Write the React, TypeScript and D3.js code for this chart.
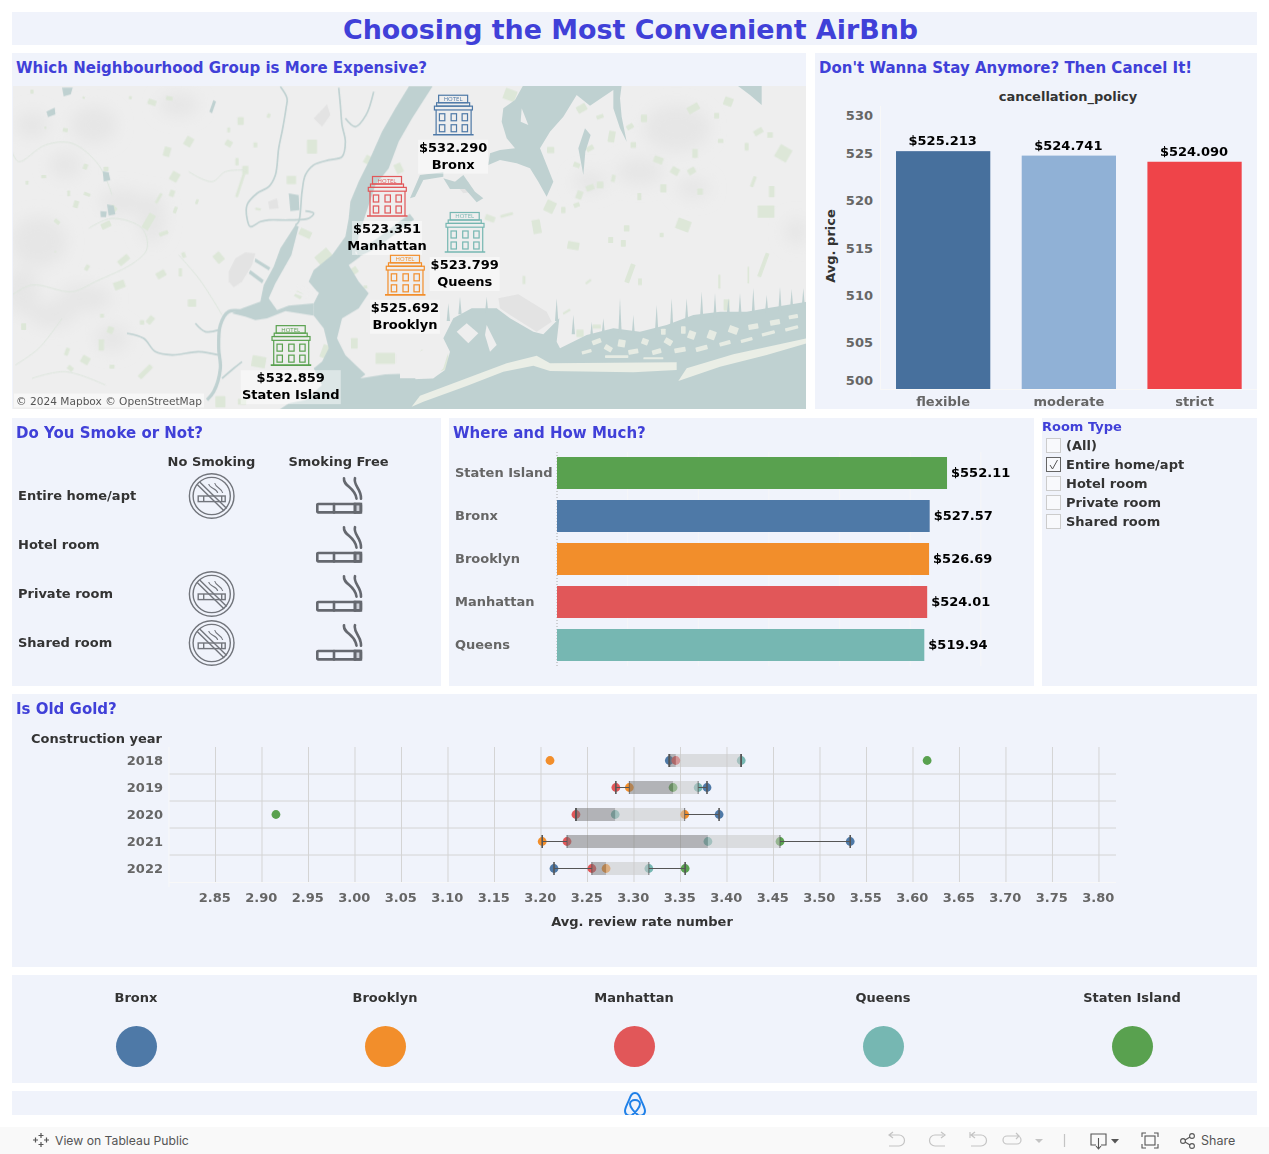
import * as d3 from "d3";
import React from "react";

const boroughs = ["Bronx", "Brooklyn", "Manhattan", "Queens", "Staten Island"];
const boroughColors = ["#4e79a7", "#f28e2b", "#e15759", "#76b7b2", "#59a14f"];

const mapBoroughs = ["Bronx", "Manhattan", "Queens", "Brooklyn", "Staten Island"];
const mapLon = [-73.856, -73.97, -73.836, -73.939, -74.136];
const mapLat = [40.886, 40.78, 40.733, 40.677, 40.585];
const mapPrice = [532.29, 523.351, 523.799, 525.692, 532.859];

const policies = ["flexible", "moderate", "strict"];
const policyPrice = [525.213, 524.741, 524.09];
const policyColors = ["#47709d", "#90b1d6", "#ef4449"];
const policyTicks = [500, 505, 510, 515, 520, 525, 530];

const rooms = ["Entire home/apt", "Hotel room", "Private room", "Shared room"];
const noSmoking = [true, false, true, true];
const smokingFree = [true, true, true, true];

const barBoroughs = ["Staten Island", "Bronx", "Brooklyn", "Manhattan", "Queens"];
const barPrice = [552.11, 527.57, 526.69, 524.01, 519.94];

const filterItems = ["(All)", "Entire home/apt", "Hotel room", "Private room", "Shared room"];
const filterChecked = "Entire home/apt";

const years = ["2018", "2019", "2020", "2021", "2022"];
// review rate per year, same order as boroughs
const reviewBronx = [3.338, 3.3785, 3.3915, 3.5325, 3.214];
const reviewBrooklyn = [3.2097, 3.295, 3.3545, 3.2013, 3.27];
const reviewManhattan = [3.345, 3.2805, 3.2376, 3.228, 3.2547];
const reviewQueens = [3.4153, 3.369, 3.2798, 3.3795, 3.316];
const reviewStaten = [3.6152, 3.342, 2.915, 3.457, 3.355];
const reviewSeries = [reviewBronx, reviewBrooklyn, reviewManhattan, reviewQueens, reviewStaten];
const reviewTicks = d3.range(0, 20).map(i => 2.85 + i * 0.05);

// ---- basemap shapes, traced by hand. first set is in the left crop, second in the right crop ----
const seaLeft = "1191,3 1150,70 1110,140 1070,230 1040,290 1015,350 1010,400 1000,455 960,510 905,555 890,590 920,625 905,655 905,692 935,730 950,790 930,830 905,850 930,900 880,945 830,955 800,975 1210,975 1210,865 1120,868 1045,880 1060,868 1000,810 975,760 990,700 1040,670 1070,625 1040,590 1010,540 1045,515 1030,505 1040,450 1060,390 1090,300 1130,250 1160,170 1200,100 1262,3";
const newarkBay = "905,655 830,662 795,675 770,640 790,595 838,510 860,425 850,420 805,490 785,545 755,600 745,650 690,670 660,685 700,695 730,705 765,700 820,678 905,692";
const leftWaterBits = ["730,520 775,548 770,556 728,530", "715,555 755,585 750,595 710,565", "150,8 182,8 176,28 155,34", "103,80 128,68 130,88 108,96", "272,258 290,262 295,285 275,290", "285,358 305,362 310,388 290,392", "265,378 284,380 282,396 266,396", "592,80 604,45 612,50 600,85", "830,325 860,330 862,375 835,378"];
const leftLandBits = ["855,597 920,622 917,630 852,605", "835,612 905,640 902,646 832,620"];
const leftGrey = ["650,560 670,520 700,502 730,505 720,540 690,590 665,607 650,590", "905,100 945,58 955,90 930,125", "768,350 795,340 800,370 772,372"];
const leftRivers: [number, number][][] = [
  [[880, 378], [905, 385], [890, 400], [830, 405], [770, 405], [745, 410], [715, 425], [705, 400], [705, 360], [735, 325], [770, 305], [790, 270], [800, 190], [812, 130], [822, 70], [825, 40], [805, 5]],
  [[850, 420], [860, 410], [870, 320], [880, 270], [905, 240], [950, 225], [990, 215], [1000, 170], [990, 120], [985, 60], [980, 8]],
  [[700, 680], [650, 680], [625, 720], [620, 790], [625, 850], [605, 920], [585, 945]],
  [[345, 745], [395, 760], [430, 800], [480, 810], [560, 800], [620, 810]],
  [[550, 715], [580, 740], [620, 735]],
  [[630, 880], [665, 850], [690, 830]],
  [[1000, 100], [1030, 125], [1062, 90], [1085, 20]],
];
const leftStreams: [number, number][][] = [
  [[0, 200], [20, 230], [100, 180], [180, 175], [260, 240], [300, 330]],
  [[230, 430], [300, 400], [390, 430], [405, 490], [370, 530], [250, 590], [180, 620], [60, 600], [0, 630]],
  [[500, 510], [560, 580], [600, 640], [630, 690]],
  [[150, 700], [80, 790], [10, 840]],
  [[530, 260], [600, 290], [640, 260], [700, 255]],
  [[60, 880], [160, 860], [280, 900]],
];
const leftParks: number[][] = [
  [60, 20, 12, 14, 0], [215, 38, 10, 8, 30], [420, 52, 30, 20, 20], [472, 40, 24, 15, 10], [355, 38, 10, 12, 0], [160, 135, 18, 14, 10], [100, 128, 8, 8, 0], [220, 245, 16, 20, 20], [282, 252, 18, 16, 0],
  [95, 275, 18, 12, 0], [45, 293, 10, 14, 0], [225, 328, 24, 12, 20], [170, 325, 10, 20, 0], [192, 358, 18, 26, 15], [135, 410, 22, 14, 40], [282, 420, 36, 22, -25], [305, 370, 24, 18, 40], [455, 445, 34, 14, -20],
  [490, 375, 12, 24, 20], [555, 350, 10, 18, 20], [530, 170, 28, 34, 30], [465, 200, 24, 34, 15], [488, 275, 30, 34, 30], [480, 325, 18, 24, 20], [440, 340, 10, 40, 30], [410, 410, 26, 60, 30], [686, 108, 22, 28, 0],
  [650, 175, 24, 22, 30], [730, 180, 14, 18, 0], [770, 92, 12, 16, 20], [650, 135, 10, 18, 0], [675, 230, 12, 26, 0], [700, 255, 22, 30, 0], [738, 372, 20, 8, 10], [620, 518, 30, 36, -40], [515, 510, 14, 20, -20],
  [335, 525, 44, 22, -40], [447, 568, 34, 24, -30], [322, 600, 40, 28, -20], [540, 654, 30, 26, 0], [505, 562, 12, 30, 0], [225, 548, 14, 22, 30], [270, 692, 14, 14, 0], [130, 500, 6, 6, 0], [295, 735, 22, 24, 20],
  [268, 780, 20, 40, 0], [220, 825, 30, 28, 30], [165, 800, 14, 28, 20], [175, 850, 22, 16, 40], [35, 725, 18, 24, 0], [400, 860, 60, 18, -45], [415, 705, 20, 30, 40], [390, 712, 16, 16, 0], [300, 845, 18, 14, 0],
  [880, 445, 44, 26, 25], [900, 185, 36, 50, 0], [838, 285, 34, 30, 0], [685, 300, 10, 90, 18], [1068, 225, 26, 30, 30], [1160, 250, 26, 36, -25], [935, 515, 56, 40, -40], [1025, 558, 30, 24, -35], [1027, 775, 24, 38, 0],
  [940, 800, 28, 48, 20], [860, 630, 26, 22, 30], [740, 830, 50, 40, 10], [625, 950, 36, 40, 0], [1120, 820, 70, 40, 0], [1060, 606, 14, 12, 0], [690, 950, 30, 20, 0],
];
const leftMottle: number[][] = [[245, 120, 70, 55], [160, 240, 50, 40], [80, 470, 85, 75], [420, 400, 40, 75], [220, 640, 80, 40], [120, 690, 70, 40], [330, 350, 70, 38], [60, 120, 50, 40], [300, 760, 50, 40], [30, 620, 50, 70], [500, 60, 60, 35]];

const seaRight = "0,885 100,880 135,855 150,800 130,760 160,700 215,670 290,670 330,700 400,740 430,748 478,700 470,770 480,790 560,750 640,730 720,740 800,720 880,690 960,680 1040,680 1100,670 1221,650 1221,975 0,975";
const soundRight = "370,0 345,45 310,70 305,110 320,160 345,190 300,195 270,205 265,240 300,225 350,235 390,250 415,290 440,335 460,290 440,240 420,190 450,140 490,95 530,30 570,62 640,15 640,70 660,130 680,170 665,95 660,40 665,0";
const rightWaterBits = ["555,130 535,190 550,270 556,200 572,150", "130,280 165,290 190,270 225,320 250,340 230,352 195,312 150,312", "30,340 60,270 130,262 130,275 70,285 45,335", "1010,0 1085,0 1085,60 1050,30"];
const rightLandBits = ["35,965 60,932 200,880 320,835 410,812 450,835 830,832 830,855 700,862 450,858 400,842 310,860 200,903 70,950", "835,888 860,850 1000,808 1221,760 1221,775 1100,810 960,845", "100,880 130,850 145,800 110,770 60,800 0,800 0,880", "170,740 200,715 235,745 205,775", "260,720 290,780 270,800 255,750", "365,70 385,120 362,110"];
const rightGrey = ["295,640 355,628 440,680 455,710 410,740 330,690 300,670", "160,290 205,290 218,320 190,325"];
const rightIslands: number[][] = [
  [590, 770, 28, 14, -20], [625, 790, 24, 16, 30], [665, 775, 22, 22, 10], [700, 800, 30, 14, -10], [735, 770, 20, 18, 20], [770, 800, 28, 14, -15], [805, 770, 24, 18, 30], [840, 795, 34, 14, -10],
  [875, 750, 22, 24, 20], [905, 790, 36, 14, -15], [935, 750, 24, 26, 20], [975, 775, 34, 12, -15], [1000, 735, 28, 22, 20], [1040, 765, 36, 10, -15], [1060, 725, 30, 16, -10], [1105, 745, 40, 10, -15],
  [1125, 712, 30, 16, -10], [1175, 730, 40, 10, -15], [1180, 695, 28, 12, -10], [850, 735, 14, 22, 0], [790, 740, 14, 18, 0], [560, 800, 30, 10, -15], [650, 815, 70, 8, 0], [760, 820, 60, 6, 0],
];
const rightFingers: number[][] = [
  [470, 700, 640], [520, 740, 690], [575, 750, 710], [610, 740, 700], [660, 735, 640], [700, 745, 690], [770, 730, 660], [815, 720, 640], [860, 700, 640], [905, 690, 620], [945, 690, 625], [985, 685, 640], [1020, 685, 625], [1060, 680, 610], [1100, 675, 630], [1140, 670, 605], [1175, 665, 612], [1210, 660, 610], [145, 700, 655], [180, 680, 635], [260, 675, 635],
];
const rightParks: number[][] = [
  [330, 30, 44, 40, 20], [545, 70, 36, 26, -30], [600, 95, 26, 14, -20], [635, 155, 24, 40, 10], [570, 190, 28, 18, -30], [452, 195, 26, 22, 0], [530, 240, 24, 18, 20], [690, 125, 26, 18, -30], [700, 180, 20, 20, 0], [732, 100, 22, 26, 0],
  [880, 70, 44, 26, -30], [775, 225, 34, 24, 20], [825, 258, 30, 26, 30], [885, 205, 20, 32, 0], [875, 258, 28, 22, -30], [962, 168, 20, 14, 0], [950, 92, 18, 20, 0], [985, 50, 32, 30, 20], [1040, 185, 14, 28, 0], [1075, 140, 34, 20, -30],
  [1150, 205, 48, 50, 30], [1110, 150, 20, 20, 0], [1098, 380, 60, 44, 0], [1060, 290, 12, 40, 20], [1115, 320, 20, 40, 0], [900, 320, 20, 22, 0], [790, 310, 22, 30, 0], [718, 335, 14, 26, 0], [640, 280, 14, 26, 10], [570, 308, 30, 20, -20],
  [538, 330, 22, 30, 20], [600, 300, 24, 24, 0], [450, 365, 36, 42, 25], [490, 375, 16, 22, 0], [530, 360, 22, 16, -20], [410, 425, 30, 50, -10], [520, 482, 42, 28, 10], [632, 465, 18, 22, 0], [680, 430, 20, 22, 0], [670, 475, 18, 24, 0],
  [690, 565, 18, 70, 20], [372, 585, 10, 30, 0], [565, 590, 24, 8, -40], [785, 450, 14, 16, 0], [850, 420, 50, 40, 20], [1090, 540, 14, 90, 20], [958, 590, 8, 50, 0], [1045, 570, 6, 60, 0], [720, 590, 14, 24, 0], [320, 390, 46, 10, -15],
  [500, 680, 30, 8, -30], [130, 830, 44, 60, -15], [70, 810, 30, 30, 30], [270, 400, 36, 20, 20], [540, 745, 26, 26, 0], [590, 725, 30, 14, 0], [980, 660, 22, 40, 0], [80, 930, 30, 24, -20], [220, 880, 30, 10, -20],
];
const rightMottle: number[][] = [[830, 130, 100, 70], [720, 260, 70, 40], [1190, 440, 35, 40], [570, 290, 50, 30], [880, 310, 50, 30]];

const BG = "#f0f3fb";
const BLUE = "#4040d8";
const FONT = "'DejaVu Sans', sans-serif";
const WATER = "#bfd1d1";
const LAND = "#eeeeee";
const GREEN = "#dde7d8";

const Panel = ({ x, y, w, h }: { x: number; y: number; w: number; h: number }) => <rect x={x} y={y} width={w} height={h} fill={BG} />;
const Heading = ({ x, y, children }: { x: number; y: number; children: React.ReactNode }) => (
  <text x={x} y={y} fill={BLUE} fontSize={15} fontWeight={700}>{children}</text>
);

function Hotel({ color }: { color: string }) {
  const winX = [-11, 0.7, 11.7];
  const winY = [-21, -10];
  return (
    <g fill="none" stroke={color} strokeWidth={1.2}>
      <rect x={-14.5} y={-39.5} width={29} height={7.5} />
      <text x={0} y={-33.5} fontSize={6} fontWeight={400} fill={color} stroke="none" textAnchor="middle" fontFamily="'Open Sans', sans-serif">HOTEL</text>
      <rect x={-16.5} y={-32} width={33} height={3.4} />
      <rect x={-18.7} y={-28.6} width={38} height={3.8} />
      <path d="M-17,-25V0M18,-25V0" />
      <line x1={-20} x2={20.5} y1={0} y2={0} strokeWidth={1.6} />
      {winY.map(wy => winX.map(wx => <rect key={`${wx}${wy}`} x={wx - 2.7} y={wy} width={5.4} height={7} />))}
    </g>
  );
}

function Cigarette() {
  return (
    <g fill="none" stroke="#65686f" strokeWidth={2.6} strokeLinecap="round">
      <rect x={1.3} y={1.3} width={43.6} height={8.4} rx={0.8} />
      <path d="M18,1.3V9.7M39,1.3V9.7" />
      <rect x={39} y={1.3} width={5.9} height={8.4} fill="#65686f" fillOpacity={0.25} />
      <path d="M28,-24.5C27,-16 39,-16 40.5,-4" />
      <path d="M39,-24.5C37,-17 45.5,-14 45,-4" />
    </g>
  );
}

function NoSmokingIcon() {
  return (
    <g fill="none" stroke="#72757c" strokeWidth={1.4}>
      <circle r={22.3} />
      <circle r={18.6} />
      <path d="M-14.5,-11.5L12.5,15M-12,-14L15,12.5" />
      <rect x={-13.5} y={0} width={27} height={5.6} />
      <path d="M-8,0V5.6M10,0V5.6" />
      <path d="M-3,-12C-2,-7 5,-8 6,-3M3,-13C4,-8 10,-8 11,-3" strokeWidth={1.1} />
    </g>
  );
}

export default function App() {
  const riverLine = d3.line().curve(d3.curveCatmullRom);

  // map
  const projection = d3.geoMercator().center([-73.97, 40.78]).scale(33232).translate([387, 196]);

  // cancellation bars
  const cx = d3.scaleBand().domain(policies).range([880.3, 1257.4]).paddingInner(0.25).paddingOuter(0.125);
  const cy = d3.scaleLinear().domain([500, 530]).range([389, 106]);

  // neighbourhood bars
  const bx = d3.scaleLinear().domain([0, 700]).range([557, 1051.5]);
  const by = d3.scaleBand().domain(barBoroughs).range([451.5, 666.5]).paddingInner(11 / 43).paddingOuter(5.5 / 43);
  const barColor = d3.scaleOrdinal<string, string>().domain(boroughs).range(boroughColors);

  // smoking table
  const ry = d3.scalePoint().domain(rooms).range([496, 643]);

  // box plots
  const rx = d3.scaleLinear().domain([2.8, 3.8183]).range([169, 1116]);
  const rowY = d3.scaleBand().domain(years).range([747, 882]);
  const boxes = years.map((yr, i) => {
    const vals = reviewSeries.map(s => s[i]).sort(d3.ascending);
    const q1 = d3.quantile(vals, 0.25) as number;
    const med = d3.quantile(vals, 0.5) as number;
    const q3 = d3.quantile(vals, 0.75) as number;
    const iqr = q3 - q1;
    const lo = d3.min(vals.filter(v => v >= q1 - 1.5 * iqr)) as number;
    const hi = d3.max(vals.filter(v => v <= q3 + 1.5 * iqr)) as number;
    return { yr, q1, med, q3, lo, hi };
  });
  const legendX = d3.scalePoint().domain(boroughs).range([136, 1132]);

  const parkRect = (p: number[], i: number) => (
    <rect key={i} x={p[0] - p[2] * 0.42} y={p[1] - p[3] * 0.42} width={p[2] * 0.84} height={p[3] * 0.84} rx={2} fill={GREEN}
      transform={`rotate(${p[4]} ${p[0]} ${p[1]})`} />
  );

  return (
    <svg width={1269} height={1154} viewBox="0 0 1269 1154" fontFamily={FONT} fontWeight={700}
      style={{ position: "absolute", left: 0, top: 0, background: "#fff" }}>
      <defs>
        <clipPath id="mapclip"><rect x={13} y={86} width={793} height={323} /></clipPath>
        <clipPath id="logoclip"><rect x={600} y={1091} width={70} height={24} /></clipPath>
        <filter id="soft" x="-20%" y="-20%" width="140%" height="140%"><feGaussianBlur stdDeviation={22} /></filter>
        <filter id="raster" x="-2%" y="-2%" width="104%" height="104%"><feGaussianBlur stdDeviation={1.2} /></filter>
      </defs>

      {/* title */}
      <Panel x={12} y={12} w={1245} h={33} />
      <text x={630.5} y={39} textAnchor="middle" fill={BLUE} fontSize={26.9}>Choosing the Most Convenient AirBnb</text>

      {/* map panel */}
      <Panel x={12} y={53} w={794} h={356} />
      <Heading x={16} y={73}>Which Neighbourhood Group is More Expensive?</Heading>
      <g clipPath="url(#mapclip)">
        <rect x={13} y={86} width={793} height={323} fill={LAND} />
        <g transform="translate(12,85) scale(0.33333)">
          <g filter="url(#soft)" fill="#e6e6e6">
            {leftMottle.map((m, i) => <ellipse key={i} cx={m[0]} cy={m[1]} rx={m[2]} ry={m[3]} />)}
          </g>
          <g filter="url(#raster)">
            {leftParks.map(parkRect)}
            {leftGrey.map((s, i) => <polygon key={i} points={s} fill="#e3e3e3" />)}
            {leftStreams.map((r, i) => <path key={i} d={riverLine(r) ?? ""} fill="none" stroke="#dde6dd" strokeWidth={3} />)}
            {leftRivers.map((r, i) => <path key={i} d={riverLine(r) ?? ""} fill="none" stroke={WATER} strokeWidth={i === 2 ? 10 : 5} />)}
            <polygon points={seaLeft} fill={WATER} />
            <polygon points={newarkBay} fill={WATER} />
            {leftWaterBits.map((s, i) => <polygon key={i} points={s} fill={WATER} />)}
            {leftLandBits.map((s, i) => <polygon key={i} points={s} fill={LAND} />)}
            <path d={riverLine([[1035, 505], [1085, 480], [1140, 440], [1200, 395]]) ?? ""} fill="none" stroke={WATER} strokeWidth={22} />
          </g>
        </g>
        <g transform="translate(400,85) scale(0.33333)">
          <g filter="url(#soft)" fill="#e6e6e6">
            {rightMottle.map((m, i) => <ellipse key={i} cx={m[0]} cy={m[1]} rx={m[2]} ry={m[3]} />)}
          </g>
          <g filter="url(#raster)">
            {rightParks.map(parkRect)}
            {rightGrey.map((s, i) => <polygon key={i} points={s} fill="#e3e3e3" />)}
            <polygon points={soundRight} fill={WATER} />
            <polygon points={seaRight} fill={WATER} />
            {rightFingers.map((f, i) => <polygon key={i} points={`${f[0] - 5},${f[1] + 8} ${f[0]},${f[2]} ${f[0] + 5},${f[1] + 8}`} fill={WATER} />)}
            {rightWaterBits.map((s, i) => <polygon key={i} points={s} fill={WATER} />)}
            {rightLandBits.map((s, i) => <polygon key={i} points={s} fill={i < 2 ? "#eaeee6" : LAND} />)}
            {rightIslands.map((m, i) => (
              <rect key={i} x={m[0] - m[2] / 2} y={m[1] - m[3] / 2} width={m[2]} height={m[3]} rx={2} fill="#e6ebe3"
                transform={`rotate(${m[4]} ${m[0]} ${m[1]})`} />
            ))}
          </g>
        </g>

        {mapBoroughs.map((b, i) => {
          const [px, py] = projection([mapLon[i], mapLat[i]]) as [number, number];
          const base = py + 20;
          const boxW = Math.max(70, b.length * 7.7);
          return (
            <g key={b} transform={`translate(${px},${base})`}>
              <rect x={-boxW / 2} y={5} width={boxW} height={34} fill="#fff" fillOpacity={0.45} />
              <Hotel color={barColor(b)} />
              <text y={17} textAnchor="middle" fontSize={13} fill="#000">${mapPrice[i].toFixed(3)}</text>
              <text y={34} textAnchor="middle" fontSize={13} fill="#000">{b}</text>
            </g>
          );
        })}
        <rect x={14} y={393.5} width={190} height={14} fill="#fff" fillOpacity={0.55} />
        <text x={16} y={405} fontSize={10.6} fontWeight={400} fill="#555">© 2024 Mapbox  © OpenStreetMap</text>
      </g>

      {/* cancellation policy */}
      <Panel x={815} y={53} w={442} h={356} />
      <Heading x={819} y={73}>Don't Wanna Stay Anymore? Then Cancel It!</Heading>
      <text x={1068} y={101} textAnchor="middle" fontSize={13} fill="#333">cancellation_policy</text>
      <line x1={880.5} x2={880.5} y1={106} y2={390} stroke="#f8f8f8" />
      <line x1={880} x2={1257} y1={389.5} y2={389.5} stroke="#f8f8f8" />
      {policyTicks.map(t => (
        <text key={t} x={873} y={Math.min(380, Math.max(115, cy(t))) + 5} textAnchor="end" fontSize={13} fill="#666">{t}</text>
      ))}
      <text transform="translate(835,246) rotate(-90)" textAnchor="middle" fontSize={13} fill="#333">Avg. price</text>
      {policies.map((p, i) => (
        <g key={p}>
          <rect x={cx(p)} y={cy(policyPrice[i])} width={cx.bandwidth()} height={cy(500) - cy(policyPrice[i])} fill={policyColors[i]} />
          <text x={(cx(p) as number) + cx.bandwidth() / 2 - 0.5} y={cy(policyPrice[i]) - 6} textAnchor="middle" fontSize={13} fill="#000">${policyPrice[i].toFixed(3)}</text>
          <text x={(cx(p) as number) + cx.bandwidth() / 2} y={406} textAnchor="middle" fontSize={13} fill="#666">{p}</text>
        </g>
      ))}

      {/* smoking */}
      <Panel x={12} y={418} w={429} h={268} />
      <Heading x={16} y={438}>Do You Smoke or Not?</Heading>
      <text x={211.5} y={466} textAnchor="middle" fontSize={13} fill="#333">No Smoking</text>
      <text x={338.5} y={466} textAnchor="middle" fontSize={13} fill="#333">Smoking Free</text>
      {rooms.map((r, i) => (
        <g key={r}>
          <text x={18} y={(ry(r) as number) + 4} fontSize={13} fill="#333">{r}</text>
          {noSmoking[i] && <g transform={`translate(211.7,${ry(r)})`}><NoSmokingIcon /></g>}
          {smokingFree[i] && <g transform={`translate(316,${(ry(r) as number) + 6.7})`}><Cigarette /></g>}
        </g>
      ))}

      {/* neighbourhood bars */}
      <Panel x={449} y={418} w={585} h={268} />
      <Heading x={453} y={438}>Where and How Much?</Heading>
      {bx.ticks(7).slice(1).map(t => (
        <line key={t} x1={bx(t)} x2={bx(t)} y1={452} y2={666} stroke="#f6f6f8" />
      ))}
      <line x1={557} x2={557} y1={452} y2={666} stroke="#aaa" strokeDasharray="1 2" />
      {barBoroughs.map((b, i) => (
        <g key={b}>
          <rect x={bx(0)} y={by(b)} width={bx(barPrice[i]) - bx(0)} height={by.bandwidth()} fill={barColor(b)} />
          <text x={455} y={(by(b) as number) + by.bandwidth() / 2 + 3.5} fontSize={13} fill="#666">{b}</text>
          <text x={bx(barPrice[i]) + 4} y={(by(b) as number) + by.bandwidth() / 2 + 3.5} fontSize={13} fill="#000">${barPrice[i].toFixed(2)}</text>
        </g>
      ))}

      {/* room filter */}
      <Panel x={1042} y={418} w={215} h={268} />
      <text x={1042} y={431} fontSize={13} fill={BLUE}>Room Type</text>
      {filterItems.map((f, i) => {
        const rowTop = 438 + i * 19;
        const on = f === filterChecked;
        return (
          <g key={f}>
            <rect x={1046.5} y={rowTop + 0.5} width={14} height={14} fill="#f8f9fc" stroke={on ? "#666" : "#ccc"} />
            {on && <path d={`M1050,${rowTop + 8}l2.5,4l5,-9`} fill="none" stroke="#555" strokeWidth={1} />}
            <text x={1066} y={rowTop + 12} fontSize={13} fill="#333">{f}</text>
          </g>
        );
      })}

      {/* review rate box plots */}
      <Panel x={12} y={694} w={1245} h={273} />
      <Heading x={16} y={714}>Is Old Gold?</Heading>
      <text x={162} y={743} textAnchor="end" fontSize={13} fill="#333">Construction year</text>
      {reviewTicks.map(t => (
        <g key={t.toFixed(2)}>
          <line x1={rx(t)} x2={rx(t)} y1={747} y2={882} stroke="#d4d4d4" />
          <text x={rx(t) - 0.7} y={902} textAnchor="middle" fontSize={13} fill="#666">{t.toFixed(2)}</text>
        </g>
      ))}
      {years.slice(1).map(yr => (
        <line key={yr} x1={169} x2={1116} y1={rowY(yr)} y2={rowY(yr)} stroke="#d4d4d4" />
      ))}
      <line x1={169} x2={1116} y1={882.5} y2={882.5} stroke="#f8f8f8" />
      <line x1={169} x2={169} y1={747} y2={887} stroke="#f8f8f8" />
      {years.map(yr => (
        <text key={yr} x={163} y={(rowY(yr) as number) + rowY.bandwidth() / 2 + 4.5} textAnchor="end" fontSize={13} fill="#666">{yr}</text>
      ))}
      {years.map((yr, yi) => {
        const cyr = (rowY(yr) as number) + rowY.bandwidth() / 2;
        return reviewSeries.map((s, si) => (
          <circle key={`${yr}${si}`} cx={rx(s[yi])} cy={cyr} r={4.4} fill={boroughColors[si]} />
        ));
      })}
      {boxes.map(b => {
        const mid = (rowY(b.yr) as number) + rowY.bandwidth() / 2;
        return (
          <g key={b.yr}>
            <line x1={rx(b.lo)} x2={rx(b.q1)} y1={mid} y2={mid} stroke="#555" strokeWidth={1} />
            <line x1={rx(b.q3)} x2={rx(b.hi)} y1={mid} y2={mid} stroke="#555" strokeWidth={1} />
            <rect x={rx(b.q1)} y={mid - 6.5} width={rx(b.med) - rx(b.q1)} height={13} fill="#787878" fillOpacity={0.52} />
            <rect x={rx(b.med)} y={mid - 6.5} width={rx(b.q3) - rx(b.med)} height={13} fill="#c8c8c8" fillOpacity={0.55} />
            <line x1={rx(b.q1)} x2={rx(b.q1)} y1={mid - 6.5} y2={mid + 6.5} stroke="#555" strokeWidth={b.lo === b.q1 ? 1.6 : 0.8} />
            <line x1={rx(b.q3)} x2={rx(b.q3)} y1={mid - 6.5} y2={mid + 6.5} stroke="#555" strokeWidth={b.hi === b.q3 ? 1.6 : 0.8} />
            <line x1={rx(b.lo)} x2={rx(b.lo)} y1={mid - 6.5} y2={mid + 6.5} stroke="#555" strokeWidth={1.6} />
            <line x1={rx(b.hi)} x2={rx(b.hi)} y1={mid - 6.5} y2={mid + 6.5} stroke="#555" strokeWidth={1.6} />
          </g>
        );
      })}
      <text x={642} y={926} textAnchor="middle" fontSize={13} fill="#333">Avg. review rate number</text>

      {/* legend */}
      <Panel x={12} y={975} w={1245} h={108} />
      {boroughs.map((b, i) => (
        <g key={b}>
          <text x={legendX(b)} y={1002} textAnchor="middle" fontSize={13} fill="#333">{b}</text>
          <circle cx={(legendX(b) as number) + 0.5} cy={1046.5} r={20.5} fill={boroughColors[i]} />
        </g>
      ))}

      {/* logo strip */}
      <Panel x={12} y={1091} w={1245} h={24} />
      <g clipPath="url(#logoclip)" fill="none" stroke="#1f80e8" strokeWidth={2}>
        <path d="M635,1093C632,1093 631,1095 629,1100C627,1105 625,1108 625,1111C625,1115 629,1117 632,1115C636,1112 640,1107 640,1104C640,1102 638,1100 635,1100C632,1100 630,1102 630,1104C630,1107 634,1112 638,1115C641,1117 645,1115 645,1111C645,1108 643,1105 641,1100C639,1095 638,1093 635,1093Z" />
      </g>

      {/* toolbar */}
      <rect x={0} y={1127} width={1269} height={27} fill="#f9f9f9" />
      <g stroke="#555" strokeWidth={1.2}>
        <path d="M41,1133v5M38.5,1135.5h5M41,1142v5M38.5,1144.5h5M35.5,1137.5v5M33,1140h5M46.5,1137.5v5M44,1140h5" />
      </g>
      <text x={55} y={1145} fontSize={12.2} fontWeight={400} fill="#555" fontFamily="Inter, sans-serif">View on Tableau Public</text>
      <g fill="none" stroke="#c4c4c4" strokeWidth={1.2}>
        <path d="M890,1134h9a5.5,5.5 0 0 1 0,11h-10M893,1131l-4,3l4,3" transform="translate(0,1)" />
        <path d="M943,1135h-8a5.5,5.5 0 0 0 0,11h10M941,1132l4,3l-4,3" />
        <path d="M972,1135h9a5.5,5.5 0 0 1 0,11h-10M975,1132l-4,3l4,3M970,1132v6" />
        <path d="M1007,1136h10a4,4 0 0 1 0,8h-10a4,4 0 0 1 0,-8M1016,1133l3,3l-3,3" />
        <line x1={1064.5} x2={1064.5} y1={1134} y2={1147} />
      </g>
      <path d="M1035,1139h8l-4,4z" fill="#c4c4c4" />
      <g fill="none" stroke="#555" strokeWidth={1.1}>
        <path d="M1096,1145h-5v-11h15v11h-5M1098.5,1138v10M1096,1146l2.5,3l2.5,-3" />
        <path d="M1142,1137v-4h4M1154,1133h4v4M1158,1144v4h-4M1146,1148h-4v-4" />
        <rect x={1145} y={1136} width={10} height={9} />
        <circle cx={1183} cy={1141} r={2.4} />
        <circle cx={1192} cy={1136} r={2.4} />
        <circle cx={1192} cy={1146} r={2.4} />
        <path d="M1185,1140l5,-3M1185,1142l5,3" />
      </g>
      <path d="M1111,1139h8l-4,4.5z" fill="#555" />
      <text x={1201} y={1145} fontSize={12.5} fontWeight={400} fill="#555" fontFamily="Inter, sans-serif">Share</text>
    </svg>
  );
}
